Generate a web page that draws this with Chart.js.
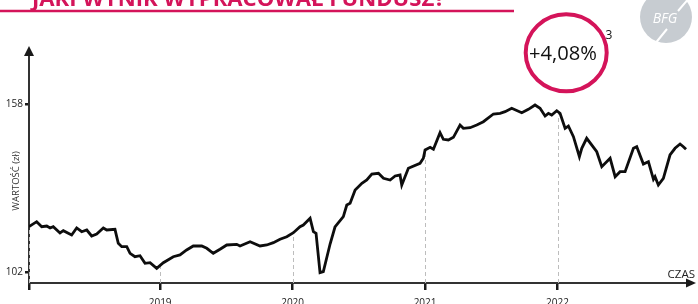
<!DOCTYPE html>
<html lang="pl">
<head>
<meta charset="utf-8">
<title>Wartość jednostki</title>
<script src="https://cdn.jsdelivr.net/npm/chart.js@4.4.1/dist/chart.umd.min.js"></script>
<style>
  html, body { margin: 0; padding: 0; background: #fff; }
  #wykres { display: block; }
</style>
</head>
<body>
<canvas id="wykres" width="698" height="304"></canvas>
<script>
// dane (czas w latach, wartość w zł)
const lata = [
  2018.01, 2018.068, 2018.106, 2018.144, 2018.169, 2018.193, 2018.244, 2018.269, 2018.332, 2018.37,
  2018.408, 2018.446, 2018.483, 2018.521, 2018.571, 2018.597, 2018.659, 2018.684, 2018.71, 2018.748,
  2018.773, 2018.81, 2018.848, 2018.886, 2018.924, 2018.974, 2019.024, 2019.099, 2019.15, 2019.2,
  2019.25, 2019.314, 2019.352, 2019.401, 2019.452, 2019.503, 2019.578, 2019.603, 2019.679, 2019.754,
  2019.805, 2019.855, 2019.905, 2019.956, 2020.006, 2020.056, 2020.081, 2020.132, 2020.157, 2020.177,
  2020.207, 2020.232, 2020.283, 2020.32, 2020.383, 2020.409, 2020.434, 2020.472, 2020.523, 2020.56,
  2020.598, 2020.648, 2020.686, 2020.736, 2020.774, 2020.811, 2020.824, 2020.874, 2020.962, 2020.987,
  2021.0, 2021.038, 2021.063, 2021.113, 2021.138, 2021.176, 2021.214, 2021.264, 2021.289, 2021.34,
  2021.39, 2021.44, 2021.516, 2021.566, 2021.604, 2021.654, 2021.73, 2021.78, 2021.83, 2021.868,
  2021.906, 2021.931, 2021.956, 2021.994, 2022.019, 2022.057, 2022.082, 2022.12, 2022.165, 2022.183,
  2022.22, 2022.296, 2022.334, 2022.397, 2022.435, 2022.472, 2022.51, 2022.573, 2022.598, 2022.648,
  2022.686, 2022.724, 2022.736, 2022.761, 2022.799, 2022.849, 2022.887, 2022.925, 2022.95, 2022.97
];
const wartosci = [
  117.2, 118.87, 117.2, 117.43, 116.77, 117.2, 115.1, 115.87, 114.43, 116.77,
  115.53, 116.1, 114.1, 114.77, 116.77, 116.1, 116.33, 111.67, 110.53, 110.53,
  108.33, 107.2, 107.53, 105.0, 105.2, 103.33, 105.2, 107.2, 107.77, 109.43,
  110.77, 110.77, 110.0, 108.33, 109.67, 111.1, 111.33, 110.77, 112.2, 110.77,
  111.1, 111.87, 113.0, 113.87, 115.2, 117.2, 117.77, 120.0, 115.53, 115.0,
  101.87, 102.2, 111.43, 117.1, 120.53, 124.43, 125.0, 129.43, 131.67, 132.77,
  134.77, 135.0, 133.33, 132.77, 134.1, 134.43, 131.1, 136.67, 138.33, 140.0,
  142.77, 143.67, 143.0, 148.53, 146.33, 146.1, 147.0, 151.1, 150.0, 150.2,
  151.1, 152.2, 154.77, 155.0, 155.53, 156.67, 155.2, 156.33, 157.77, 156.67,
  154.1, 155.0, 154.43, 155.87, 155.0, 150.0, 150.77, 147.2, 140.53, 143.33,
  146.67, 142.2, 137.2, 140.0, 133.87, 135.53, 135.53, 143.33, 143.87, 138.1,
  138.87, 133.0, 133.87, 131.1, 133.33, 141.1, 143.33, 144.77, 143.87, 143.0
];
const ticksLata = [2018.01, 2019, 2020, 2021, 2022];
const ticksWartosci = [102, 158];

const tytul = "JAKI WYNIK WYPRACOWAŁ FUNDUSZ?";
const wynik = "+4,08%";
const przypis = "3";
const opisY = "WARTOŚĆ (zł)";
const opisX = "CZAS";

const ROZ = "#d4145a";
const CZCIONKA = "'Open Sans', 'DejaVu Sans', sans-serif";

function wartoscW(x) {
  for (let i = 1; i < lata.length; i++) {
    if (x <= lata[i]) {
      const t = (x - lata[i - 1]) / (lata[i] - lata[i - 1]);
      return wartosci[i - 1] + t * (wartosci[i] - wartosci[i - 1]);
    }
  }
  return wartosci[wartosci.length - 1];
}

// linie przerywane od osi do wykresu
const liniePomocnicze = {
  id: "liniePomocnicze",
  beforeDatasetsDraw(chart) {
    const { ctx, scales: { x, y }, chartArea } = chart;
    ctx.save();
    ctx.strokeStyle = "#bdbdbd";
    ctx.lineWidth = 1;
    ctx.setLineDash([4, 3]);
    ticksLata.forEach((rok) => {
      const px = Math.round(x.getPixelForValue(rok)) + 0.5;
      const py = y.getPixelForValue(wartoscW(rok));
      ctx.beginPath();
      ctx.moveTo(px, chartArea.bottom);
      ctx.lineTo(px, py);
      ctx.stroke();
    });
    ctx.restore();
  },
};

// strzałki, opisy osi i elementy nagłówka
const dodatki = {
  id: "dodatki",
  afterDraw(chart) {
    const { ctx, chartArea: a } = chart;
    ctx.save();

    // strzałki osi
    ctx.fillStyle = "#1a1a1a";
    ctx.beginPath();
    ctx.moveTo(a.left, 46);
    ctx.lineTo(a.left - 5, 56);
    ctx.lineTo(a.left + 5, 56);
    ctx.closePath();
    ctx.fill();
    ctx.beginPath();
    ctx.moveTo(696, a.bottom);
    ctx.lineTo(686, a.bottom - 4.5);
    ctx.lineTo(686, a.bottom + 4.5);
    ctx.closePath();
    ctx.fill();

    // opis osi Y
    ctx.fillStyle = "#333";
    ctx.font = "9.5px " + CZCIONKA;
    ctx.textAlign = "center";
    ctx.textBaseline = "middle";
    ctx.translate(16, 181);
    ctx.rotate(-Math.PI / 2);
    ctx.fillText(opisY, 0, 0);
    ctx.setTransform(1, 0, 0, 1, 0, 0);

    // opis osi X
    ctx.fillStyle = "#222";
    ctx.font = "11.5px " + CZCIONKA;
    ctx.textAlign = "right";
    ctx.textBaseline = "alphabetic";
    ctx.fillText(opisX, 695, 278);

    // nagłówek
    ctx.fillStyle = ROZ;
    ctx.font = "bold 20px " + CZCIONKA;
    const w = ctx.measureText(tytul).width;
    ctx.font = "bold " + (20 * 413 / w).toFixed(2) + "px " + CZCIONKA;
    ctx.textAlign = "left";
    ctx.fillText(tytul, 32, 6);
    ctx.strokeStyle = ROZ;
    ctx.lineWidth = 2.5;
    ctx.beginPath();
    ctx.moveTo(0, 11);
    ctx.lineTo(514, 11);
    ctx.stroke();

    // kółko z wynikiem
    ctx.lineWidth = 4;
    ctx.beginPath();
    ctx.ellipse(566.2, 52.8, 40.5, 38.5, 0, 0, Math.PI * 2);
    ctx.stroke();
    ctx.fillStyle = "#111";
    ctx.font = "20px " + CZCIONKA;
    const ww = ctx.measureText(wynik).width;
    ctx.font = (20 * 68 / ww).toFixed(2) + "px " + CZCIONKA;
    ctx.textAlign = "center";
    ctx.textBaseline = "middle";
    ctx.fillText(wynik, 563, 54);
    ctx.font = "12px " + CZCIONKA;
    ctx.fillText(przypis, 609, 36);

    // logo BFG
    ctx.fillStyle = "#c7ccd1";
    ctx.beginPath();
    ctx.arc(666, 17, 26, 0, Math.PI * 2);
    ctx.fill();
    ctx.strokeStyle = "#fff";
    ctx.lineWidth = 2;
    ctx.beginPath();
    ctx.moveTo(654, 45);
    ctx.lineTo(667, 29);
    ctx.moveTo(678, 11);
    ctx.lineTo(690, -3);
    ctx.stroke();
    ctx.fillStyle = "#fff";
    ctx.font = "italic 14px " + CZCIONKA;
    ctx.fillText("BFG", 665, 19);

    ctx.restore();
  },
};

new Chart(document.getElementById("wykres"), {
  type: "line",
  data: {
    datasets: [{
      data: lata.map((x, i) => ({ x, y: wartosci[i] })),
      borderColor: "#0d0d0d",
      borderWidth: 2.8,
      pointRadius: 0,
      tension: 0,
      fill: false,
    }],
  },
  options: {
    responsive: false,
    animation: false,
    devicePixelRatio: 1,
    layout: { padding: { top: 50, right: 8, left: 0, bottom: 0 } },
    plugins: { legend: { display: false }, tooltip: { enabled: false } },
    scales: {
      x: {
        type: "linear",
        min: 2018.01,
        max: 2023,
        afterBuildTicks: (s) => { s.ticks = ticksLata.map((v) => ({ value: v })); },
        afterFit: (s) => { s.height = 21; },
        grid: { drawOnChartArea: false, drawTicks: true, tickLength: 7, color: "#1a1a1a", lineWidth: 2.5 },
        border: { display: true, color: "#333", width: 2 },
        ticks: {
          autoSkip: false,
          maxRotation: 0,
          padding: 7,
          color: "#222",
          font: { family: CZCIONKA, size: 10 },
          callback: (v) => (Number.isInteger(v) ? String(v) : ""),
        },
      },
      y: {
        min: 98.43,
        max: 176.1,
        afterBuildTicks: (s) => { s.ticks = ticksWartosci.map((v) => ({ value: v })); },
        afterFit: (s) => { s.width = 29; },
        grid: { drawOnChartArea: false, drawTicks: true, tickLength: 4, color: "#1a1a1a", lineWidth: 2.5 },
        border: { display: true, color: "#333", width: 2 },
        ticks: {
          padding: 2,
          color: "#222",
          font: { family: CZCIONKA, size: 10 },
        },
      },
    },
  },
  plugins: [liniePomocnicze, dodatki],
});
</script>
</body>
</html>
